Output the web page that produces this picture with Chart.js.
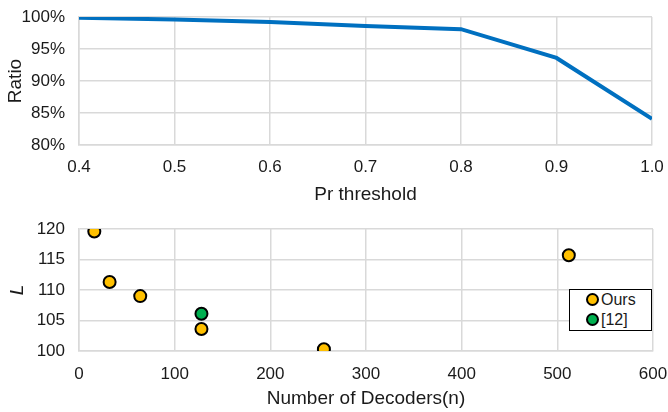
<!DOCTYPE html>
<html>
<head>
<meta charset="utf-8">
<script src="https://cdn.jsdelivr.net/npm/chart.js@4"></script>
<style>
  body { margin: 0; background: #fff; }
  #wrap { position: relative; width: 668px; height: 412px; }
  canvas { display: block; }
  #legend {
    position: absolute; left: 569px; top: 289px; width: 81px; height: 40px;
    border: 1px solid #000; background: #fff;
    font-family: "Liberation Sans", Arial, sans-serif; font-size: 16px; color: #1a1a1a;
  }
  .item { position: absolute; left: 16px; height: 20px; line-height: 20px; }
  .dot {
    display: inline-block; width: 9px; height: 9px; border-radius: 50%;
    border: 2px solid #000; vertical-align: -1px; margin-right: 2px;
  }
</style>
</head>
<body>
<div id="wrap">
  <canvas id="top" width="668" height="205"></canvas>
  <canvas id="bottom" width="668" height="207"></canvas>
  <div id="legend">
    <div class="item" style="top:0px"><span class="dot" style="background:#ffc000"></span>Ours</div>
    <div class="item" style="top:20px"><span class="dot" style="background:#00b050"></span>[12]</div>
  </div>
</div>
<script>
// top chart: ratio vs threshold
const thresholds = [0.4, 0.5, 0.6, 0.7, 0.8, 0.9, 1.0];
const ratio = [99.9, 99.6, 99.2, 98.6, 98.1, 93.6, 84.1];

// bottom chart: L vs number of decoders
const oursN = [16, 32, 64, 128, 256, 512];
const oursL = [119.6, 111.3, 109.0, 103.6, 100.3, 115.7];
const refN = [128];
const refL = [106.1];

const font = "'Liberation Sans', Arial, sans-serif";
const textColor = "#1a1a1a";
const gridColor = "#d9d9d9";

function points(xs, ys) {
    return xs.map((x, i) => ({ x: x, y: ys[i] }));
}

// fixed box sizes, no extra label padding -> chart area = layout padding
function fixX(h) {
    return s => { s.height = h; s.paddingLeft = 0; s.paddingRight = 0; };
}
function fixY(w) {
    return s => { s.width = w; s.paddingTop = 0; s.paddingBottom = 0; };
}

new Chart(document.getElementById("top"), {
    type: "line",
    data: {
        datasets: [{
            label: "Ratio",
            data: points(thresholds, ratio),
            borderColor: "#0070c0",
            borderWidth: 4,
            pointRadius: 0,
            tension: 0
        }]
    },
    options: {
        responsive: false,
        animation: false,
        layout: { padding: { top: 17, right: 16, left: 0, bottom: 0 } },
        plugins: { legend: { display: false }, tooltip: { enabled: false } },
        scales: {
            x: {
                type: "linear",
                min: 0.4,
                max: 1.0,
                afterBuildTicks: s => { s.ticks = thresholds.map(v => ({ value: v })); },
                ticks: {
                    color: textColor, font: { family: font, size: 17 }, padding: 12,
                    callback: v => v.toFixed(1)
                },
                grid: { color: gridColor, lineWidth: 1.5, drawTicks: false },
                border: { color: gridColor, width: 1.5 },
                title: {
                    display: true, text: "Pr threshold", color: textColor,
                    font: { family: font, size: 19, lineHeight: 1.1 }, padding: 0
                },
                afterFit: fixX(60)
            },
            y: {
                min: 80,
                max: 100,
                ticks: {
                    stepSize: 5, color: textColor, font: { family: font, size: 17 }, padding: 14,
                    callback: v => v + "%"
                },
                grid: { color: gridColor, lineWidth: 1.5, drawTicks: false },
                border: { color: gridColor, width: 1.5 },
                title: {
                    display: true, text: "Ratio", color: textColor,
                    font: { family: font, size: 19 }, padding: { top: 4 }
                },
                afterFit: fixY(79)
            }
        }
    }
});

new Chart(document.getElementById("bottom"), {
    type: "scatter",
    data: {
        datasets: [{
            label: "Ours",
            data: points(oursN, oursL),
            backgroundColor: "#ffc000",
            borderColor: "#000",
            borderWidth: 2,
            pointRadius: 6
        }, {
            label: "[12]",
            data: points(refN, refL),
            backgroundColor: "#00b050",
            borderColor: "#000",
            borderWidth: 2,
            pointRadius: 6
        }]
    },
    options: {
        responsive: false,
        animation: false,
        layout: { padding: { top: 24, right: 15, left: 0, bottom: 0 } },
        plugins: { legend: { display: false }, tooltip: { enabled: false } },
        scales: {
            x: {
                min: 0,
                max: 600,
                ticks: { stepSize: 100, color: textColor, font: { family: font, size: 17 }, padding: 13 },
                grid: { color: gridColor, lineWidth: 1.5, drawTicks: false },
                border: { color: gridColor, width: 1.5 },
                title: {
                    display: true, text: "Number of Decoders(n)", color: textColor,
                    font: { family: font, size: 19, lineHeight: 1.1 }, padding: { bottom: 3 }
                },
                afterFit: fixX(61)
            },
            y: {
                min: 100,
                max: 120,
                ticks: { stepSize: 5, color: textColor, font: { family: font, size: 17 }, padding: 14 },
                grid: { color: gridColor, lineWidth: 1.5, drawTicks: false },
                border: { color: gridColor, width: 1.5 },
                title: {
                    display: true, text: "L", color: textColor,
                    font: { family: font, size: 19, style: "italic" }, padding: { top: 6 }
                },
                afterFit: fixY(79)
            }
        }
    }
});
</script>
</body>
</html>
